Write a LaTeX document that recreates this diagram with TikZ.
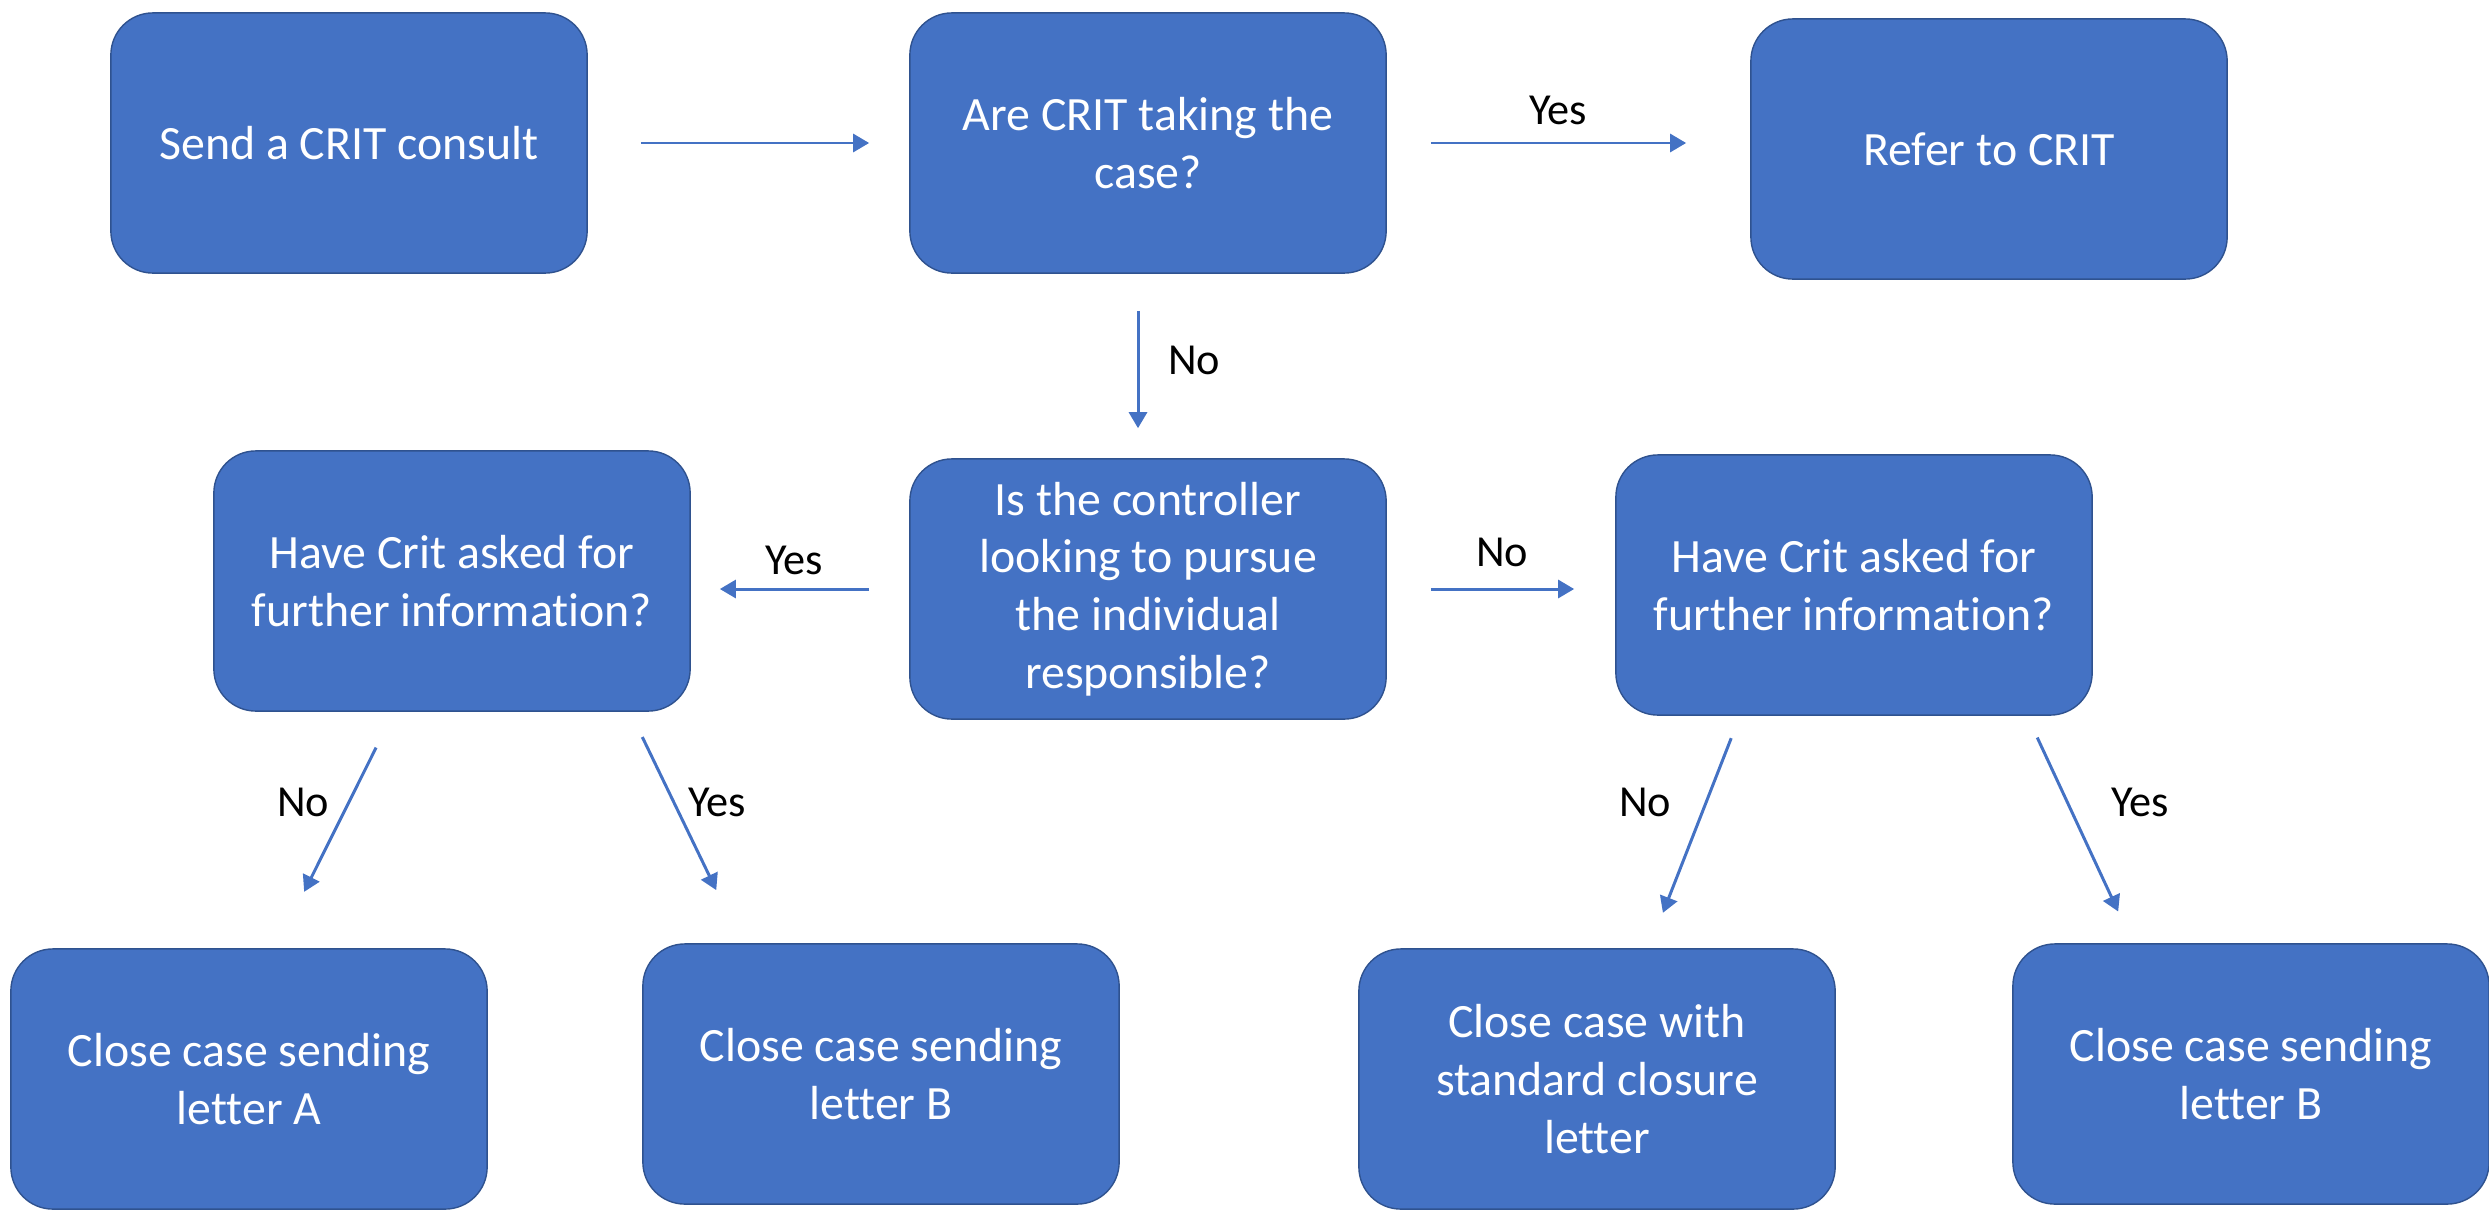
\documentclass[tikz,border=0pt]{standalone}
\usepackage{fontspec}
\setmainfont{Carlito}[Ligatures=NoCommon]
\usepackage{xcolor}
\usetikzlibrary{positioning,arrows.meta}
\definecolor{boxblue}{HTML}{4472C4}
\definecolor{boxedge}{HTML}{2F528F}

\begin{document}
\begin{tikzpicture}[x=0.01cm,y=-0.01cm,
  box/.style={rectangle,rounded corners=0.42cm,fill=boxblue,draw=boxedge,line width=0.4pt,
    minimum width=4.76cm,minimum height=2.6cm,text=white,align=center,
    font=\fontsize{13.6}{16.4}\selectfont},
  lbl/.style={font=\fontsize{12.6}{14}\selectfont,text=black},
  arr/.style={-{Triangle[length=0.16cm,width=0.18cm]},draw=boxblue,line width=0.85pt}]
  \useasboundingbox (0,0) rectangle (2489,1215);
  % top row
  \node[box] (send) at (349,143) {Send a CRIT consult};
  \node[box] (crit) at (1148,143) {Are CRIT taking the\\case?};
  \node[box] (refer) at (1989,149) {Refer to CRIT};
  % middle row
  \node[box] (askL) at (452,581) {Have Crit asked for\\further information?};
  \node[box] (ctrl) at (1148,589) {Is the controller\\looking to pursue\\the individual\\responsible?};
  \node[box] (askR) at (1854,585) {Have Crit asked for\\further information?};
  % bottom row
  \node[box] (closeA) at (249,1079) {Close case sending\\letter A};
  \node[box] (closeBL) at (881,1074) {Close case sending\\letter B};
  \node[box] (closeStd) at (1597,1079) {Close case with\\standard closure\\letter};
  \node[box] (closeBR) at (2251,1074) {Close case sending\\letter B};

  % connectors
  \draw[arr,shorten <=0.53cm,shorten >=0.40cm] (send.east) -- (crit.west);
  \draw[arr,shorten <=0.44cm,shorten >=0.64cm] (crit.east) -- (crit.east -| refer.west);
  \draw[arr,shorten <=0.37cm,shorten >=0.30cm] ([xshift=-0.1cm]crit.south) -- ([xshift=-0.1cm]ctrl.north);
  \draw[arr,shorten <=0.40cm,shorten >=0.29cm] (ctrl.west) -- (ctrl.west -| askL.east);
  \draw[arr,shorten <=0.44cm,shorten >=0.41cm] (ctrl.east) -- (ctrl.east -| askR.west);
  \draw[arr,shorten <=0.40cm,shorten >=0.63cm] ([xshift=-0.58cm]askL.south) -- ([xshift=0.27cm]closeA.north);
  \draw[arr,shorten <=0.28cm,shorten >=0.59cm] ([xshift=1.78cm]askL.south) -- ([xshift=-1.39cm]closeBL.north);
  \draw[arr,shorten <=0.24cm,shorten >=0.38cm] ([xshift=-1.14cm]askR.south) -- ([xshift=0.52cm]closeStd.north);
  \draw[arr,shorten <=0.24cm,shorten >=0.35cm] ([xshift=1.73cm]askR.south) -- ([xshift=-1.18cm]closeBR.north);

  % labels
  \node[lbl] (yesTop) at (1558,110) {Yes};
  \node[lbl] (noMid) at (1194,360) {No};
  \node[lbl] (yesLeft) at (794,560) {Yes};
  \node[lbl] (noRight) at (1502,552) {No};
  \node[lbl] (noLL) at (303,802) {No};
  \node[lbl] (yesLL) at (717,802) {Yes};
  \node[lbl] (noRR) at (1645,802) {No};
  \node[lbl] (yesRR) at (2140,802) {Yes};
\end{tikzpicture}
\end{document}
